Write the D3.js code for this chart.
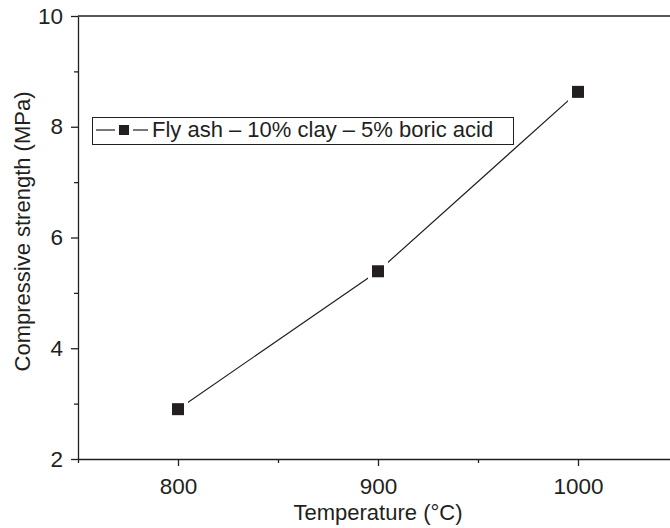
<!DOCTYPE html>
<html>
<head>
<meta charset="utf-8">
<script src="https://cdn.jsdelivr.net/npm/d3@7"></script>
<style>
  body { margin: 0; background: #fff; }
  svg { display: block; font-family: "Liberation Sans", Arial, sans-serif; }
</style>
</head>
<body>
<div id="chart"></div>
<script>
var temperature = [800, 900, 1000];
var strength = [2.9, 5.39, 8.63];
var seriesName = "Fly ash \u2013 10% clay \u2013 5% boric acid";
var xTicks = [800, 900, 1000];
var xMinor = [750, 850, 950, 1050];
var yTicks = [2, 4, 6, 8, 10];
var yMinor = [3, 5, 7, 9];

var width = 670;
var height = 528;
var ink = "#231f20";

var svg = d3.select("#chart").append("svg")
    .attr("width", width)
    .attr("height", height);

var x = d3.scaleLinear().domain([750, 1050]).range([78, 678]);
var y = d3.scaleLinear().domain([2, 10]).range([459, 16]);

// minor ticks first, no labels
svg.append("g")
    .attr("transform", "translate(" + x(750) + ",0)")
    .call(d3.axisLeft(y).tickValues(yMinor).tickSize(4).tickSizeOuter(0).tickFormat(""))
    .call(function(g) { g.select(".domain").remove(); });

svg.append("g")
    .attr("transform", "translate(0," + y(2) + ")")
    .call(d3.axisBottom(x).tickValues(xMinor).tickSize(4).tickSizeOuter(0).tickFormat(""))
    .call(function(g) { g.select(".domain").remove(); });

// major ticks
var yAxis = svg.append("g")
    .attr("transform", "translate(" + x(750) + ",0)")
    .call(d3.axisLeft(y).tickValues(yTicks).tickSize(7).tickPadding(8)
        .tickSizeOuter(0).tickFormat(d3.format("d")));

var xAxis = svg.append("g")
    .attr("transform", "translate(0," + y(2) + ")")
    .call(d3.axisBottom(x).tickValues(xTicks).tickSize(7).tickPadding(12)
        .tickSizeOuter(0).tickFormat(d3.format("d")));

svg.selectAll(".tick line").attr("stroke", ink).attr("stroke-width", 1.3);
svg.selectAll(".domain").attr("stroke", ink).attr("stroke-width", 1.3);
svg.selectAll(".tick text")
    .attr("fill", ink)
    .style("font-size", "22.5px")
    .style("font-family", "'Liberation Sans', Arial, sans-serif");

// top border
svg.append("line")
    .attr("x1", x(750)).attr("x2", x(1050))
    .attr("y1", y(10)).attr("y2", y(10))
    .attr("stroke", ink).attr("stroke-width", 1.3);

// axis titles
svg.append("text")
    .attr("x", x(900))
    .attr("y", 520)
    .attr("text-anchor", "middle")
    .attr("font-size", "22px")
    .attr("fill", ink)
    .text("Temperature (\u00b0C)");

svg.append("text")
    .attr("transform", "translate(30,231.5) rotate(-90)")
    .attr("text-anchor", "middle")
    .attr("font-size", "22px")
    .attr("fill", ink)
    .text("Compressive strength (MPa)");

// data line
var line = d3.line()
    .x(function(d, i) { return x(temperature[i]); })
    .y(function(d) { return y(d); });

svg.append("path")
    .datum(strength)
    .attr("d", line)
    .attr("fill", "none")
    .attr("stroke", ink)
    .attr("stroke-width", 1.2);

// white gap round markers
svg.selectAll(".gap")
    .data(strength)
    .enter()
    .append("rect")
    .attr("class", "gap")
    .attr("x", function(d, i) { return x(temperature[i]) - 10; })
    .attr("y", function(d) { return y(d) - 10; })
    .attr("width", 20)
    .attr("height", 20)
    .attr("fill", "#fff");

svg.selectAll(".marker")
    .data(strength)
    .enter()
    .append("rect")
    .attr("class", "marker")
    .attr("x", function(d, i) { return x(temperature[i]) - 6; })
    .attr("y", function(d) { return y(d) - 6; })
    .attr("width", 12)
    .attr("height", 12)
    .attr("fill", ink);

// legend
var legend = svg.append("g");

legend.append("rect")
    .attr("x", 92.5)
    .attr("y", 117.5)
    .attr("width", 421)
    .attr("height", 27)
    .attr("fill", "#fff")
    .attr("stroke", ink)
    .attr("stroke-width", 1);

legend.append("line")
    .attr("x1", 96).attr("x2", 115)
    .attr("y1", 130).attr("y2", 130)
    .attr("stroke", ink).attr("stroke-width", 1.2);

legend.append("line")
    .attr("x1", 133).attr("x2", 148)
    .attr("y1", 130).attr("y2", 130)
    .attr("stroke", ink).attr("stroke-width", 1.2);

legend.append("rect")
    .attr("x", 119)
    .attr("y", 125)
    .attr("width", 10)
    .attr("height", 10)
    .attr("fill", ink);

legend.append("text")
    .attr("x", 152)
    .attr("y", 137)
    .attr("font-size", "22px")
    .attr("fill", ink)
    .text(seriesName);
</script>
</body>
</html>
